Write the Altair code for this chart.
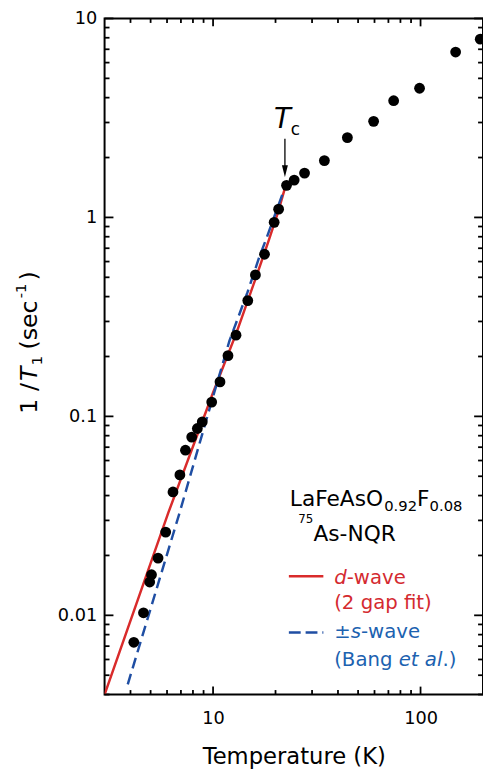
import altair as alt
import pandas as pd

# ---------------- data ----------------
temp = [4.15, 4.62, 4.95, 5.05, 5.43, 5.91, 6.41, 6.92, 7.36, 7.89, 8.40, 8.87,
        9.85, 10.8, 11.8, 12.9, 14.7, 16.0, 17.7, 19.7, 20.7, 22.6, 24.6, 27.6,
        34.4, 44.4, 59.4, 74.2, 98.9, 147.6, 194.0]
rate = [0.00732, 0.0103, 0.0147, 0.0160, 0.0194, 0.0262, 0.0417, 0.0508, 0.0676,
        0.0787, 0.0869, 0.0938, 0.118, 0.149, 0.202, 0.256, 0.382, 0.514, 0.653,
        0.945, 1.10, 1.45, 1.54, 1.67, 1.93, 2.52, 3.04, 3.86, 4.46, 6.78, 7.87]

dwave_T = [3.0, 6.1, 9.9, 13.0, 16.0, 18.5, 20.5, 22.4]
dwave_R = [0.0040, 0.033, 0.128, 0.265, 0.49, 0.76, 1.05, 1.45]

swave_T = [3.88, 6.85, 10.2, 12.0, 14.65, 16.6, 18.2, 20.0, 22.0]
swave_R = [0.0045, 0.032, 0.135, 0.24, 0.42, 0.62, 0.80, 1.05, 1.38]

x_major = [10, 100]
x_minor = [4, 5, 6, 7, 8, 9, 20, 30, 40, 50, 60, 70, 80, 90]
y_major = [0.01, 0.1, 1, 10]
y_minor = [0.004, 0.005, 0.006, 0.007, 0.008, 0.009,
           0.02, 0.03, 0.04, 0.05, 0.06, 0.07, 0.08, 0.09,
           0.2, 0.3, 0.4, 0.5, 0.6, 0.7, 0.8, 0.9,
           2, 3, 4, 5, 6, 7, 8, 9]

# ---------------- layout ----------------
W, H = 384, 686
FONT = "DejaVu Sans"
RED = "#d92b2b"
BLUE = "#1f4ea3"
RED_T = "#d42a30"
BLUE_T = "#1c62b0"

xs = alt.Scale(type="log", domain=[3, 200], nice=False)
ys = alt.Scale(type="log", domain=[0.004, 10], nice=False)

x_axis = alt.Axis(values=x_major, format="~g", ticks=False, tickSize=0, domain=False,
                  grid=False, labelFont=FONT, labelFontSize=18, labelColor="black",
                  labelPadding=15, title="Temperature (K)", titleFont=FONT,
                  titleFontSize=23, titleFontWeight="normal", titleColor="black",
                  titlePadding=19)
y_axis = alt.Axis(values=y_major, format="~g", ticks=False, tickSize=0, domain=False,
                  grid=False, labelFont=FONT, labelFontSize=18, labelColor="black",
                  labelPadding=8, title=None)

pts_df = pd.DataFrame({"T": temp, "R": rate})
d_df = pd.DataFrame({"T": dwave_T, "R": dwave_R})
s_df = pd.DataFrame({"T": swave_T, "R": swave_R})

base_x = alt.X("T:Q", scale=xs, axis=x_axis)
base_y = alt.Y("R:Q", scale=ys, axis=y_axis)

dline = alt.Chart(d_df).mark_line(color=RED, strokeWidth=2.5, clip=True).encode(
    x=base_x, y=base_y)
sline = alt.Chart(s_df).mark_line(color=BLUE, strokeWidth=2.5, strokeDash=[11, 6],
                                  clip=True).encode(x=base_x, y=base_y)
points = alt.Chart(pts_df).mark_circle(size=120, color="black", opacity=1).encode(
    x=base_x, y=base_y)


def xticks(vals, length):
    df = pd.DataFrame({"T": vals})
    bot = alt.Chart(df).mark_rule(color="black", strokeWidth=1.8).encode(
        x=alt.X("T:Q", scale=xs, axis=x_axis), y=alt.value(H), y2=alt.value(H - length))
    top = alt.Chart(df).mark_rule(color="black", strokeWidth=1.8).encode(
        x=alt.X("T:Q", scale=xs, axis=x_axis), y=alt.value(0), y2=alt.value(length))
    return [bot, top]


def yticks(vals, length):
    df = pd.DataFrame({"R": vals})
    left = alt.Chart(df).mark_rule(color="black", strokeWidth=1.8).encode(
        y=alt.Y("R:Q", scale=ys, axis=y_axis), x=alt.value(0), x2=alt.value(length))
    right = alt.Chart(df).mark_rule(color="black", strokeWidth=1.8).encode(
        y=alt.Y("R:Q", scale=ys, axis=y_axis), x=alt.value(W), x2=alt.value(W - length))
    return [left, right]


one = pd.DataFrame({"k": [0]})


def txt(s, x, y, size, color="black", style="normal", angle=0):
    kw = dict(align="left", baseline="alphabetic", font=FONT, fontSize=size,
              fontStyle=style, color=color)
    if angle:
        kw["angle"] = angle
    return alt.Chart(one).mark_text(**kw).encode(
        x=alt.value(x), y=alt.value(y), text=alt.value(s))


ann = []
# y-axis title: 1 /T1 (sec-1), rotated
ann += [
    txt("1 /", -69, 401, 24, angle=270),
    txt("T", -69, 368, 24, style="italic", angle=270),
    txt("1", -63, 352, 15, angle=270),
    txt("(sec", -69, 336, 24, angle=270),
    txt("-1", -80, 284, 15, angle=270),
    txt(")", -69, 266, 24, angle=270),
]
# Tc marker
ann += [
    txt("T", 172, 111, 28, style="italic"),
    txt("c", 189, 118, 17),
    alt.Chart(one).mark_rule(color="black", strokeWidth=1.3).encode(
        x=alt.value(183), y=alt.value(122), y2=alt.value(152)),
    alt.Chart(one).mark_point(shape="M-0.5,-1L0.5,-1L0,1Z", size=144, filled=True,
                              color="black", opacity=1).encode(
        x=alt.value(183), y=alt.value(155)),
]
# sample label
ann += [
    txt("LaFeAsO", 188, 495, 22),
    txt("0.92", 283.7, 500, 15),
    txt("F", 317.1, 495, 22),
    txt("0.08", 329.8, 500, 15),
    txt("75", 196.5, 512, 12),
    txt("As-NQR", 212, 530, 22),
]
# legend
ann += [
    alt.Chart(one).mark_rule(color=RED, strokeWidth=2.5).encode(
        x=alt.value(187), x2=alt.value(222), y=alt.value(566)),
    alt.Chart(one).mark_rule(color=BLUE, strokeWidth=2.5, strokeDash=[12, 5]).encode(
        x=alt.value(187), x2=alt.value(222), y=alt.value(623)),
    txt("d", 233, 574, 20, color=RED_T, style="italic"),
    txt("-wave", 245.7, 574, 20, color=RED_T),
    txt("(2 gap fit)", 233, 599, 20, color=RED_T),
    txt("\u00b1", 233, 629, 20, color=BLUE_T),
    txt("s", 249.8, 629, 20, color=BLUE_T, style="italic"),
    txt("-wave", 260.2, 629, 20, color=BLUE_T),
    txt("(Bang", 233, 657, 20, color=BLUE_T),
    txt("et al", 298.5, 657, 20, color=BLUE_T, style="italic"),
    txt(".)", 342.8, 657, 20, color=BLUE_T),
]

layers = [dline, sline, points]
for v, L in ((x_major, 8), (x_minor, 4.5)):
    layers += xticks(v, L)
for v, L in ((y_major, 9), (y_minor, 5)):
    layers += yticks(v, L)
layers += ann

chart = alt.layer(*layers).properties(
    width=W, height=H,
    autosize=alt.AutoSizeParams(type="none"),
    padding={"left": 98, "top": 5, "right": 0, "bottom": 72},
    background="white",
).configure_view(stroke="black", strokeWidth=2)

chart.save("out.html", embed_options={"renderer": "svg", "actions": False})
